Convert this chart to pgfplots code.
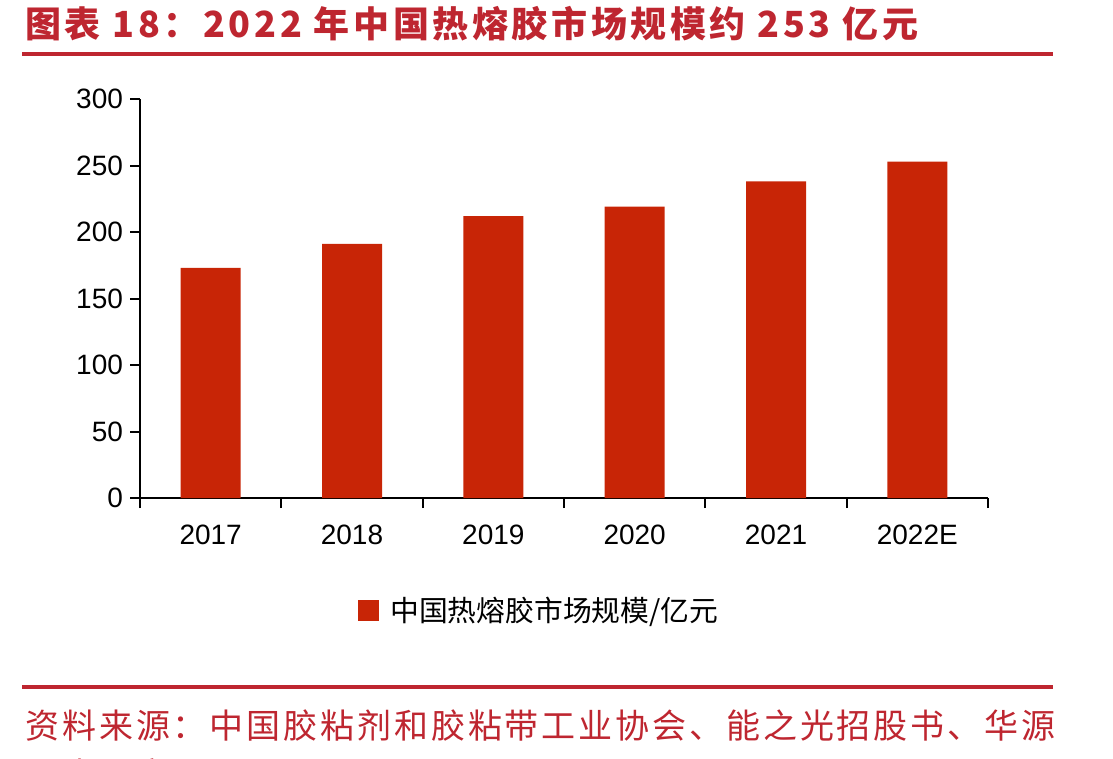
\documentclass[border=0pt]{standalone}
\usepackage{fontspec}
\usepackage{pgfplots}
\pgfplotsset{compat=1.18}
\setmainfont{Liberation Sans}
\newfontfamily\cjk{Noto Sans CJK SC}
\newfontfamily\cjktitle[LetterSpace=10]{Noto Sans CJK SC}
\newfontfamily\cjksrc[LetterSpace=8.5]{Noto Sans CJK SC}
\definecolor{barred}{HTML}{C82506}
\definecolor{headred}{HTML}{BE2630}

\begin{document}
\begin{tikzpicture}
\useasboundingbox (0pt,0pt) rectangle (556.5pt,-379.5pt);
\clip (0pt,0pt) rectangle (556.5pt,-379.5pt);
\begin{scope}[x=0.5pt,y=-0.5pt]
  % heading and rule
  \node[anchor=base west, inner sep=0pt, text=headred,
        font=\cjktitle\bfseries\fontsize{18pt}{18pt}\selectfont]
        at (25,38) {图表 18：2022 年中国热熔胶市场规模约 253 亿元};
  \draw[headred, line width=2pt] (22,54) -- (1053,54);
  % footer rule and source
  \draw[headred, line width=2pt] (22,687) -- (1053,687);
  \node[anchor=base west, inner sep=0pt, text=headred,
        font=\cjksrc\fontsize{17pt}{17pt}\selectfont]
        at (25,738) {资料来源：中国胶粘剂和胶粘带工业协会、能之光招股书、华源};
  \node[anchor=base west, inner sep=0pt, text=headred,
        font=\cjksrc\fontsize{17pt}{17pt}\selectfont]
        at (25,787) {证券研究};
\end{scope}

\begin{axis}[
  at={(70pt,-249pt)}, anchor=south west,
  scale only axis, width=424pt, height=199.5pt,
  xmin=-0.5, xmax=5.5, ymin=0, ymax=300,
  axis x line*=bottom, axis y line*=left,
  axis line style={line width=1.2pt, black, -},
  ytick={0,50,...,300},
  xtick={0,...,5},
  xticklabels={2017,2018,2019,2020,2021,2022E},
  minor xtick={-0.5,0.5,...,5.5},
  tick align=outside,
  major tick length=5pt, minor tick length=5pt,
  tick style={black, line width=1pt},
  major x tick style={draw=none},
  /pgf/number format/assume math mode=true,
  tick label style={font=\fontsize{14pt}{14pt}\selectfont},
  xticklabel style={yshift=-5pt},
  ybar, bar width=30pt,
  legend image code/.code={\fill[barred] (0pt,-5.25pt) rectangle (10.5pt,5.25pt);},
  legend style={at={(0.257,-0.283)}, anchor=west, draw=none, fill=none,
    inner sep=0pt, font=\cjk\fontsize{14.4pt}{14.4pt}\selectfont,
    /tikz/every odd column/.append style={column sep=3.5pt}},
]
\addplot[fill=barred, draw=none]
  coordinates {(0,173) (1,191) (2,212) (3,219) (4,238) (5,253)};
\legend{中国热熔胶市场规模/亿元}
\end{axis}
\end{tikzpicture}
\end{document}
